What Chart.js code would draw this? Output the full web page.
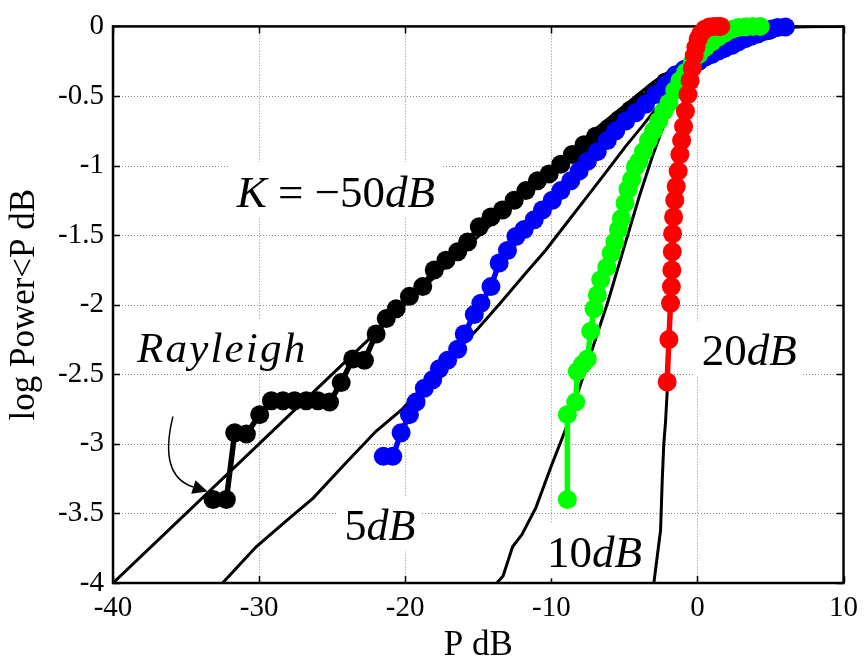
<!DOCTYPE html>
<html>
<head>
<meta charset="utf-8">
<title>Rician CDF</title>
<script src="https://cdn.jsdelivr.net/npm/chart.js@4.4.1/dist/chart.umd.min.js"></script>
<style>
  html, body { margin: 0; padding: 0; background: #fff; }
  #wrap { width: 866px; height: 664px; position: relative; }
</style>
</head>
<body>
<div id="wrap"><canvas id="cdf"></canvas></div>
<script>
// axis ticks
const xTicks = [-40, -30, -20, -10, 0, 10];
const yTicks = [0, -0.5, -1, -1.5, -2, -2.5, -3, -3.5, -4];

// theory curves (black lines)
const rayleighX = [-40, -30, -20, -17.5, -15, -12.5, -10, -8.5, -7, -6, -5, -4, -3, -2, -1, 0, 1, 2, 3, 4, 5, 6, 7, 8, 10];
const rayleighY = [-4.0, -3.0, -2.0, -1.754, -1.51, -1.262, -1.02, -0.88, -0.74, -0.654, -0.57, -0.484, -0.40, -0.33, -0.26, -0.20, -0.145, -0.10, -0.064, -0.037, -0.019, -0.008, -0.003, -0.001, 0];

const k5X = [-33.5, -32.5, -30.2, -28.1, -26.3, -24.0, -22.0, -20.2, -17.0, -15.0, -13.5, -11.8, -10.4, -9.0, -7.6, -6.2, -4.9, -3.8, -2.6, -1.5, -0.5, 0.5, 1.5, 2.5, 3.5, 4.5, 6, 10];
const k5Y = [-4.1, -4.0, -3.74, -3.55, -3.39, -3.13, -2.91, -2.75, -2.39, -2.17, -1.99, -1.78, -1.61, -1.42, -1.23, -1.04, -0.86, -0.72, -0.56, -0.41, -0.29, -0.19, -0.11, -0.06, -0.03, -0.012, -0.003, 0];

const k10X = [-14.5, -13.9, -13.3, -12.65, -12.0, -11.06, -10.04, -9.0, -7.2, -6.1, -4.8, -4.0, -3.1, -2.2, -1.3, -0.6, 0, 0.6, 1.2, 2, 3, 4, 10];
const k10Y = [-4.6, -4.02, -3.95, -3.74, -3.65, -3.46, -3.17, -2.89, -2.32, -1.97, -1.51, -1.23, -0.94, -0.68, -0.44, -0.28, -0.19, -0.12, -0.07, -0.03, -0.01, 0, 0];

const k20X = [-3.1, -2.98, -2.75, -2.52, -2.41, -2.30, -2.18, -2.07, -1.85, -1.6, -1.35, -1.05, -0.75, -0.4, 0, 0.5, 1.0, 1.6, 10];
const k20Y = [-4.4, -4.0, -3.81, -3.62, -3.27, -3.0, -2.84, -2.63, -2.0, -1.5, -1.0, -0.62, -0.38, -0.22, -0.11, -0.04, -0.01, 0, 0];

// simulated samples (markers)
const simK50X = [-33.15, -32.24, -31.67, -30.87, -29.96, -29.16, -28.37, -27.57, -26.77, -25.98, -25.18, -24.38, -23.59, -22.79, -21.99, -21.30, -20.62, -19.71, -18.80, -18.01, -17.21, -16.41, -15.73, -14.93, -14.13, -13.34, -12.54, -11.74, -10.95, -10.15, -9.35, -8.56, -7.76, -6.96, -6.05, -5.37, -4.57, -3.78, -2.98, -2.18, -1.50, -0.70, 0.10, 0.90, 1.70, 2.50, 3.30, 4.10, 4.90];
const simK50Y = [-3.40, -3.40, -2.92, -2.93, -2.79, -2.69, -2.69, -2.69, -2.69, -2.69, -2.70, -2.56, -2.39, -2.40, -2.21, -2.10, -2.03, -1.94, -1.87, -1.75, -1.68, -1.62, -1.55, -1.44, -1.37, -1.32, -1.25, -1.18, -1.11, -1.06, -0.99, -0.92, -0.85, -0.79, -0.73, -0.67, -0.60, -0.54, -0.47, -0.40, -0.35, -0.30, -0.25, -0.20, -0.16, -0.12, -0.085, -0.055, -0.03];

const simK5X = [-21.50, -20.85, -20.28, -19.71, -19.26, -18.69, -18.12, -17.66, -17.10, -16.41, -15.96, -15.27, -14.82, -14.13, -13.57, -13.00, -12.42, -11.86, -11.17, -10.61, -9.93, -9.35, -8.67, -8.10, -7.53, -6.85, -6.17, -5.59, -4.91, -4.23, -3.55, -2.86, -2.18, -1.50, -0.90, -0.36, 0.10, 0.55, 1.00, 1.46, 1.90, 2.37, 2.80, 3.28, 3.70, 4.19, 4.60, 5.10, 5.50, 6.02];
const simK5Y = [-3.09, -3.09, -2.92, -2.79, -2.70, -2.60, -2.54, -2.46, -2.40, -2.32, -2.21, -2.07, -1.99, -1.87, -1.70, -1.61, -1.51, -1.46, -1.39, -1.32, -1.25, -1.18, -1.11, -1.04, -0.97, -0.90, -0.82, -0.75, -0.68, -0.62, -0.56, -0.49, -0.42, -0.35, -0.31, -0.27, -0.245, -0.22, -0.20, -0.175, -0.155, -0.135, -0.11, -0.088, -0.07, -0.052, -0.035, -0.018, -0.008, -0.004];

const simK10X = [-8.90, -8.90, -8.33, -8.22, -7.87, -7.53, -7.30, -7.08, -6.85, -6.62, -6.20, -5.90, -5.65, -5.40, -5.20, -4.95, -4.75, -4.50, -4.25, -4.00, -3.70, -3.35, -3.00, -2.65, -2.30, -1.95, -1.55, -1.20, -0.80, -0.35, 0.10, 0.55, 1.00, 1.46, 1.90, 2.37, 2.80, 3.30, 3.80, 4.30];
const simK10Y = [-3.40, -2.79, -2.70, -2.48, -2.43, -2.39, -2.19, -2.03, -1.93, -1.82, -1.73, -1.63, -1.55, -1.46, -1.38, -1.27, -1.17, -1.10, -1.01, -0.97, -0.90, -0.82, -0.75, -0.68, -0.61, -0.55, -0.46, -0.39, -0.33, -0.26, -0.20, -0.15, -0.11, -0.075, -0.045, -0.02, -0.008, -0.003, 0, 0];

const simK20X = [-2.07, -1.95, -1.84, -1.78, -1.75, -1.72, -1.70, -1.63, -1.55, -1.45, -1.32, -1.20, -1.08, -0.95, -0.82, -0.65, -0.50, -0.35, -0.22, -0.10, 0.05, 0.25, 0.50, 0.80, 1.10, 1.40, 1.60];
const simK20Y = [-2.555, -2.25, -1.99, -1.87, -1.75, -1.62, -1.49, -1.37, -1.25, -1.15, -1.04, -0.92, -0.82, -0.72, -0.61, -0.49, -0.39, -0.30, -0.21, -0.15, -0.09, -0.05, -0.02, -0.005, 0, 0, 0];

// text annotations, anchored in data units (left edge, baseline)
const notes = [
  { x: -31.53, y: -1.295, size: 45, parts: [['K', true], [' = \u221250', false], ['dB', true]] },
  { x: -38.36, y: -2.413, size: 43, spacing: 2.2, parts: [['Rayleigh', true]] },
  { x: -24.15, y: -3.694, size: 44, parts: [['5', false], ['dB', true]] },
  { x: -10.29, y: -3.886, size: 45, parts: [['10', false], ['dB', true]] },
  { x: 0.30, y: -2.434, size: 45, parts: [['20', false], ['dB', true]] }
];
// curved arrow pointing at the Rayleigh curve: start, control, end
const arrowPath = [[-35.9, -2.804], [-36.9, -3.23], [-34.5, -3.31]];

const SERIF = "'Liberation Serif', 'Times New Roman', serif";

function pts(xs, ys) {
  return xs.map((v, i) => ({ x: v, y: ys[i] }));
}

function theory(xs, ys) {
  return {
    data: pts(xs, ys),
    showLine: true,
    borderColor: '#000',
    borderWidth: 3,
    pointRadius: 0,
    order: 10
  };
}

function samples(xs, ys, color, order) {
  return {
    data: pts(xs, ys),
    showLine: true,
    borderColor: color,
    backgroundColor: color,
    borderWidth: 5.5,
    pointRadius: 9.5,
    pointHoverRadius: 9.5,
    pointBorderWidth: 0,
    pointBackgroundColor: color,
    clip: false,
    order: order
  };
}

// dotted grid, inner ticks and the axes box
const framePlugin = {
  id: 'frame',
  beforeDatasetsDraw(chart) {
    const { ctx, chartArea: a, scales: { x, y } } = chart;
    ctx.save();
    ctx.strokeStyle = '#888';
    ctx.lineWidth = 1;
    ctx.setLineDash([1, 2]);
    xTicks.forEach(v => {
      const px = Math.round(x.getPixelForValue(v)) + 0.5;
      if (px <= a.left + 1 || px >= a.right - 1) return;
      ctx.beginPath(); ctx.moveTo(px, a.top); ctx.lineTo(px, a.bottom); ctx.stroke();
    });
    yTicks.forEach(v => {
      const py = Math.round(y.getPixelForValue(v)) + 0.5;
      if (py <= a.top + 1 || py >= a.bottom - 1) return;
      ctx.beginPath(); ctx.moveTo(a.left, py); ctx.lineTo(a.right, py); ctx.stroke();
    });
    ctx.setLineDash([]);
    ctx.strokeStyle = '#000';
    ctx.lineWidth = 1.5;
    const tl = 7;
    xTicks.forEach(v => {
      const px = Math.round(x.getPixelForValue(v)) + 0.5;
      ctx.beginPath();
      ctx.moveTo(px, a.bottom); ctx.lineTo(px, a.bottom - tl);
      ctx.moveTo(px, a.top); ctx.lineTo(px, a.top + tl);
      ctx.stroke();
    });
    yTicks.forEach(v => {
      const py = Math.round(y.getPixelForValue(v)) + 0.5;
      ctx.beginPath();
      ctx.moveTo(a.left, py); ctx.lineTo(a.left + tl, py);
      ctx.moveTo(a.right, py); ctx.lineTo(a.right - tl, py);
      ctx.stroke();
    });
    ctx.lineWidth = 2.5;
    ctx.strokeRect(a.left, a.top, a.right - a.left, a.bottom - a.top);
    ctx.restore();
  },
  afterDatasetsDraw(chart) {
    const { ctx, scales: { x, y } } = chart;
    ctx.save();
    ctx.textBaseline = 'alphabetic';
    notes.forEach(n => {
      const x0 = x.getPixelForValue(n.x);
      const base = y.getPixelForValue(n.y);
      const sp = n.spacing || 0;
      // measure the run of pieces
      let w = 0;
      const widths = n.parts.map(([t, it]) => {
        ctx.font = (it ? 'italic ' : '') + n.size + 'px ' + SERIF;
        let pw = 0;
        for (const ch of t) pw += ctx.measureText(ch).width + sp;
        if (!sp) pw = ctx.measureText(t).width;
        w += pw;
        return pw;
      });
      ctx.fillStyle = '#fff';
      ctx.fillRect(x0 - 8, base - n.size * 0.9 - 4, w + 14, n.size * 1.15 + 4);
      ctx.fillStyle = '#000';
      let cx = x0;
      n.parts.forEach(([t, it], i) => {
        ctx.font = (it ? 'italic ' : '') + n.size + 'px ' + SERIF;
        if (sp) {
          let px = cx;
          for (const ch of t) { ctx.fillText(ch, px, base); px += ctx.measureText(ch).width + sp; }
        } else {
          ctx.fillText(t, cx, base);
        }
        cx += widths[i];
      });
    });

    // arrow
    const p = arrowPath.map(([vx, vy]) => [x.getPixelForValue(vx), y.getPixelForValue(vy)]);
    ctx.strokeStyle = '#000';
    ctx.lineWidth = 1.5;
    ctx.beginPath();
    ctx.moveTo(p[0][0], p[0][1]);
    ctx.quadraticCurveTo(p[1][0], p[1][1], p[2][0], p[2][1]);
    ctx.stroke();
    const ang = Math.atan2(p[2][1] - p[1][1], p[2][0] - p[1][0]);
    const len = 15, half = 7;
    const tip = [p[2][0] + Math.cos(ang) * len, p[2][1] + Math.sin(ang) * len];
    ctx.fillStyle = '#000';
    ctx.beginPath();
    ctx.moveTo(tip[0], tip[1]);
    ctx.lineTo(p[2][0] - Math.sin(ang) * half, p[2][1] + Math.cos(ang) * half);
    ctx.lineTo(p[2][0] + Math.sin(ang) * half, p[2][1] - Math.cos(ang) * half);
    ctx.closePath();
    ctx.fill();
    ctx.restore();
  }
};

new Chart(document.getElementById('cdf'), {
  type: 'scatter',
  data: {
    datasets: [
      theory(rayleighX, rayleighY),
      theory(k5X, k5Y),
      theory(k10X, k10Y),
      theory(k20X, k20Y),
      samples(simK50X, simK50Y, '#000000', 4),
      samples(simK5X, simK5Y, '#0000ff', 3),
      samples(simK10X, simK10Y, '#00ff00', 2),
      samples(simK20X, simK20Y, '#ff0000', 1)
    ]
  },
  options: {
    responsive: true,
    maintainAspectRatio: false,
    devicePixelRatio: 1,
    animation: false,
    layout: { padding: { top: 21, right: 21, left: 0, bottom: 0 } },
    plugins: { legend: { display: false }, tooltip: { enabled: false } },
    scales: {
      x: {
        type: 'linear',
        position: 'bottom',
        min: -40,
        max: 10,
        afterBuildTicks: s => { s.ticks = xTicks.map(v => ({ value: v })); },
        afterFit: s => { s.height = 81; },
        grid: { display: false, drawTicks: false },
        border: { display: false },
        ticks: {
          color: '#000',
          padding: 8,
          maxRotation: 0,
          autoSkip: false,
          callback: v => String(v),
          font: { family: SERIF, size: 29 }
        },
        title: {
          display: true,
          text: 'P dB',
          color: '#000',
          padding: { top: 0, bottom: 1 },
          font: { family: SERIF, size: 35, lineHeight: 1 }
        }
      },
      y: {
        type: 'linear',
        min: -4,
        max: 0,
        afterBuildTicks: s => { s.ticks = yTicks.map(v => ({ value: v })); },
        afterFit: s => { s.width = 113; },
        grid: { display: false, drawTicks: false },
        border: { display: false },
        ticks: {
          color: '#000',
          padding: 9,
          autoSkip: false,
          callback: v => String(v),
          font: { family: SERIF, size: 29 }
        },
        title: {
          display: true,
          text: 'log Power<P dB',
          color: '#000',
          padding: { top: 7, bottom: 0 },
          font: { family: SERIF, size: 35, lineHeight: 1 }
        }
      }
    }
  },
  plugins: [framePlugin]
});
</script>
</body>
</html>
